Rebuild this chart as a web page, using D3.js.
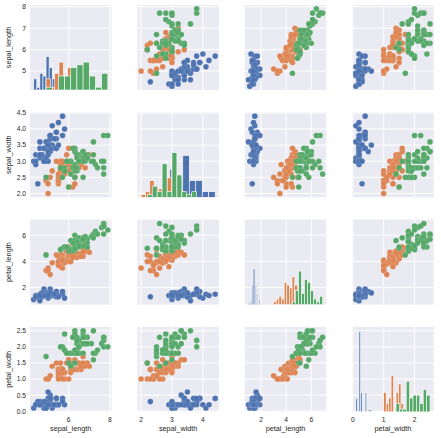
<!DOCTYPE html>
<html><head><meta charset="utf-8">
<script src="https://cdn.jsdelivr.net/npm/d3@7"></script>
<style>body{margin:0;background:#fff}svg{display:block}text{font-family:"Liberation Sans",Arial,sans-serif;fill:#262626}</style>
</head><body>
<svg id="chart" width="441" height="438"></svg>
<script>
// ---- Data (iris) ----
const species = ["setosa", "versicolor", "virginica"];
const colors = ["#4C72B0", "#DD8452", "#55A868"];
const variables = ["sepal_length", "sepal_width", "petal_length", "petal_width"];

const sepal_length_setosa = [5.1,4.9,4.7,4.6,5.0,5.4,4.6,5.0,4.4,4.9,5.4,4.8,4.8,4.3,5.8,5.7,5.4,5.1,5.7,5.1,5.4,5.1,4.6,5.1,4.8,5.0,5.0,5.2,5.2,4.7,4.8,5.4,5.2,5.5,4.9,5.0,5.5,4.9,4.4,5.1,5.0,4.5,4.4,5.0,5.1,4.8,5.1,4.6,5.3,5.0];
const sepal_width_setosa = [3.5,3.0,3.2,3.1,3.6,3.9,3.4,3.4,2.9,3.1,3.7,3.4,3.0,3.0,4.0,4.4,3.9,3.5,3.8,3.8,3.4,3.7,3.6,3.3,3.4,3.0,3.4,3.5,3.4,3.2,3.1,3.4,4.1,4.2,3.1,3.2,3.5,3.6,3.0,3.4,3.5,2.3,3.2,3.5,3.8,3.0,3.8,3.2,3.7,3.3];
const petal_length_setosa = [1.4,1.4,1.3,1.5,1.4,1.7,1.4,1.5,1.4,1.5,1.5,1.6,1.4,1.1,1.2,1.5,1.3,1.4,1.7,1.5,1.7,1.5,1.0,1.7,1.9,1.6,1.6,1.5,1.4,1.6,1.6,1.5,1.5,1.4,1.5,1.2,1.3,1.4,1.3,1.5,1.3,1.3,1.3,1.6,1.9,1.4,1.6,1.4,1.5,1.4];
const petal_width_setosa = [0.2,0.2,0.2,0.2,0.2,0.4,0.3,0.2,0.2,0.1,0.2,0.2,0.1,0.1,0.2,0.4,0.4,0.3,0.3,0.3,0.2,0.4,0.2,0.5,0.2,0.2,0.4,0.2,0.2,0.2,0.2,0.4,0.1,0.2,0.2,0.2,0.2,0.1,0.2,0.2,0.3,0.3,0.2,0.6,0.4,0.3,0.2,0.2,0.2,0.2];

const sepal_length_versicolor = [7.0,6.4,6.9,5.5,6.5,5.7,6.3,4.9,6.6,5.2,5.0,5.9,6.0,6.1,5.6,6.7,5.6,5.8,6.2,5.6,5.9,6.1,6.3,6.1,6.4,6.6,6.8,6.7,6.0,5.7,5.5,5.5,5.8,6.0,5.4,6.0,6.7,6.3,5.6,5.5,5.5,6.1,5.8,5.0,5.6,5.7,5.7,6.2,5.1,5.7];
const sepal_width_versicolor = [3.2,3.2,3.1,2.3,2.8,2.8,3.3,2.4,2.9,2.7,2.0,3.0,2.2,2.9,2.9,3.1,3.0,2.7,2.2,2.5,3.2,2.8,2.5,2.8,2.9,3.0,2.8,3.0,2.9,2.6,2.4,2.4,2.7,2.7,3.0,3.4,3.1,2.3,3.0,2.5,2.6,3.0,2.6,2.3,2.7,3.0,2.9,2.9,2.5,2.8];
const petal_length_versicolor = [4.7,4.5,4.9,4.0,4.6,4.5,4.7,3.3,4.6,3.9,3.5,4.2,4.0,4.7,3.6,4.4,4.5,4.1,4.5,3.9,4.8,4.0,4.9,4.7,4.3,4.4,4.8,5.0,4.5,3.5,3.8,3.7,3.9,5.1,4.5,4.5,4.7,4.4,4.1,4.0,4.4,4.6,4.0,3.3,4.2,4.2,4.2,4.3,3.0,4.1];
const petal_width_versicolor = [1.4,1.5,1.5,1.3,1.5,1.3,1.6,1.0,1.3,1.4,1.0,1.5,1.0,1.4,1.3,1.4,1.5,1.0,1.5,1.1,1.8,1.3,1.5,1.2,1.3,1.4,1.4,1.7,1.5,1.0,1.1,1.0,1.2,1.6,1.5,1.6,1.5,1.3,1.3,1.3,1.2,1.4,1.2,1.0,1.3,1.2,1.3,1.3,1.1,1.3];

const sepal_length_virginica = [6.3,5.8,7.1,6.3,6.5,7.6,4.9,7.3,6.7,7.2,6.5,6.4,6.8,5.7,5.8,6.4,6.5,7.7,7.7,6.0,6.9,5.6,7.7,6.3,6.7,7.2,6.2,6.1,6.4,7.2,7.4,7.9,6.4,6.3,6.1,7.7,6.3,6.4,6.0,6.9,6.7,6.9,5.8,6.8,6.7,6.7,6.3,6.5,6.2,5.9];
const sepal_width_virginica = [3.3,2.7,3.0,2.9,3.0,3.0,2.5,2.9,2.5,3.6,3.2,2.7,3.0,2.5,2.8,3.2,3.0,3.8,2.6,2.2,3.2,2.8,2.8,2.7,3.3,3.2,2.8,3.0,2.8,3.0,2.8,3.8,2.8,2.8,2.6,3.0,3.4,3.1,3.0,3.1,3.1,3.1,2.7,3.2,3.3,3.0,2.5,3.0,3.4,3.0];
const petal_length_virginica = [6.0,5.1,5.9,5.6,5.8,6.6,4.5,6.3,5.8,6.1,5.1,5.3,5.5,5.0,5.1,5.3,5.5,6.7,6.9,5.0,5.7,4.9,6.7,4.9,5.7,6.0,4.8,4.9,5.6,5.8,6.1,6.4,5.6,5.1,5.6,6.1,5.6,5.5,4.8,5.4,5.6,5.1,5.1,5.9,5.7,5.2,5.0,5.2,5.4,5.1];
const petal_width_virginica = [2.5,1.9,2.1,1.8,2.2,2.1,1.7,1.8,1.8,2.5,2.0,1.9,2.1,2.0,2.4,2.3,1.8,2.2,2.3,1.5,2.3,2.0,2.0,1.8,2.1,1.8,1.8,1.8,2.1,1.6,1.9,2.0,2.2,1.5,1.4,2.3,2.4,1.8,1.8,2.1,2.4,2.3,1.9,2.3,2.5,2.3,1.9,2.0,2.3,1.8];

// tick values per variable
const yTicks_sepal_length = [5, 6, 7, 8];
const xTicks_sepal_length = [6, 8];
const yTicks_sepal_width = [2.0, 2.5, 3.0, 3.5, 4.0, 4.5];
const xTicks_sepal_width = [2, 3, 4];
const yTicks_petal_length = [2, 4, 6];
const xTicks_petal_length = [2, 4, 6];
const yTicks_petal_width = [0.0, 0.5, 1.0, 1.5, 2.0, 2.5];
const xTicks_petal_width = [0, 1, 2];

const nBins = 10;

// ---- Assemble ----
const seriesData = {
  sepal_length: [sepal_length_setosa, sepal_length_versicolor, sepal_length_virginica],
  sepal_width: [sepal_width_setosa, sepal_width_versicolor, sepal_width_virginica],
  petal_length: [petal_length_setosa, petal_length_versicolor, petal_length_virginica],
  petal_width: [petal_width_setosa, petal_width_versicolor, petal_width_virginica]
};
const yTicks = {sepal_length: yTicks_sepal_length, sepal_width: yTicks_sepal_width, petal_length: yTicks_petal_length, petal_width: yTicks_petal_width};
const xTicks = {sepal_length: xTicks_sepal_length, sepal_width: xTicks_sepal_width, petal_length: xTicks_petal_length, petal_width: xTicks_petal_width};
const yFmt = {sepal_length: d3.format("d"), sepal_width: d3.format(".1f"), petal_length: d3.format("d"), petal_width: d3.format(".1f")};
const xFmt = {sepal_length: d3.format("d"), sepal_width: d3.format("d"), petal_length: d3.format("d"), petal_width: d3.format("d")};

// numpy-like histogram with equal bins over own range
function npHist(a, n) {
  const lo = d3.min(a), hi = d3.max(a);
  const step = (hi - lo) / n;
  const edges = d3.range(n + 1).map(i => i * step + lo);
  edges[n] = hi;
  const norm = n / (hi - lo);
  const counts = new Array(n).fill(0);
  a.forEach(v => {
    let idx = Math.floor((v - lo) * norm);
    if (idx === n) idx -= 1;
    if (v < edges[idx]) idx -= 1;
    if (idx !== n - 1 && v >= edges[idx + 1]) idx += 1;
    counts[idx]++;
  });
  return counts.map((c, i) => ({x0: edges[i], x1: edges[i + 1], c}));
}

const L = 30, T = 5, W = 81.5, H = 85, DX = 107.4, DY = 107.3;

const svg = d3.select("#chart");
svg.append("rect").attr("width", 441).attr("height", 438).attr("fill", "#fff");

const scales = {};
variables.forEach((v, i) => {
  const all = seriesData[v].flat();
  const [mn, mx] = d3.extent(all);
  const pad = (mx - mn) * 0.05;
  scales[v] = {
    x: d3.scaleLinear().domain([mn - pad, mx + pad]).range([L + i * DX, L + i * DX + W]),
    y: d3.scaleLinear().domain([mn - pad, mx + pad]).range([T + i * DY + H, T + i * DY])
  };
});

// histograms & shared diag y
const hists = {};
let maxCount = 0;
variables.forEach(v => {
  hists[v] = seriesData[v].map(arr => npHist(arr, nBins));
  hists[v].forEach(h => h.forEach(b => { maxCount = Math.max(maxCount, b.c); }));
});

variables.forEach((rv, r) => {
  variables.forEach((cv, c) => {
    const x = scales[cv].x, y = scales[rv].y;
    const g = svg.append("g");
    const x0 = L + c * DX, y0 = T + r * DY;
    const clipId = `clip-${r}-${c}`;
    g.append("clipPath").attr("id", clipId).append("rect").attr("x", x0).attr("y", y0).attr("width", W).attr("height", H);
    g.append("rect").attr("x", x0).attr("y", y0).attr("width", W).attr("height", H).attr("fill", "#EAEAF2");
    // grid
    g.selectAll(".gx").data(xTicks[cv].filter(t => t >= x.domain()[0] && t <= x.domain()[1])).join("line")
      .attr("x1", d => x(d)).attr("x2", d => x(d)).attr("y1", y0).attr("y2", y0 + H)
      .attr("stroke", "#fff").attr("stroke-width", 1);
    g.selectAll(".gy").data(yTicks[rv]).join("line")
      .attr("y1", d => y(d)).attr("y2", d => y(d)).attr("x1", x0).attr("x2", x0 + W)
      .attr("stroke", "#fff").attr("stroke-width", 1);
    const inner = g.append("g").attr("clip-path", `url(#${clipId})`);
    if (r === c) {
      const hy = d3.scaleLinear().domain([0, maxCount * 1.05]).range([y0 + H, y0]);
      hists[cv].forEach((h, si) => {
        inner.append("g").selectAll("rect").data(h).join("rect")
          .attr("x", d => x(d.x0)).attr("width", d => Math.max(0, x(d.x1) - x(d.x0)))
          .attr("y", d => hy(d.c)).attr("height", d => hy(0) - hy(d.c))
          .attr("fill", colors[si]).attr("stroke", "#fff").attr("stroke-width", 0.6);
      });
    } else {
      const pts = [];
      species.forEach((s, si) => {
        seriesData[cv][si].forEach((xv, k) => pts.push({xv, yv: seriesData[rv][si][k], si}));
      });
      inner.selectAll("circle").data(pts).join("circle")
        .attr("cx", d => x(d.xv)).attr("cy", d => y(d.yv)).attr("r", 2.8)
        .attr("fill", d => colors[d.si]).attr("stroke", "#fff").attr("stroke-opacity", 0.3).attr("stroke-width", 0.4);
    }
    // left axis
    if (c === 0) {
      g.selectAll(".ty").data(yTicks[rv]).join("text")
        .attr("x", x0 - 4).attr("y", d => y(d)).attr("dy", "0.35em")
        .attr("text-anchor", "end").attr("font-size", 6.7).text(d => yFmt[rv](d));
      g.append("text").attr("transform", `translate(11,${y0 + H / 2}) rotate(-90)`)
        .attr("text-anchor", "middle").attr("font-size", 7.3).text(rv);
    }
    if (r === variables.length - 1) {
      g.selectAll(".tx").data(xTicks[cv]).join("text")
        .attr("x", d => x(d)).attr("y", y0 + H + 10.5)
        .attr("text-anchor", "middle").attr("font-size", 6.7).text(d => xFmt[cv](d));
      g.append("text").attr("x", x0 + W / 2).attr("y", y0 + H + 19.5)
        .attr("text-anchor", "middle").attr("font-size", 7.3).text(cv);
    }
  });
});
</script>
</body></html>
